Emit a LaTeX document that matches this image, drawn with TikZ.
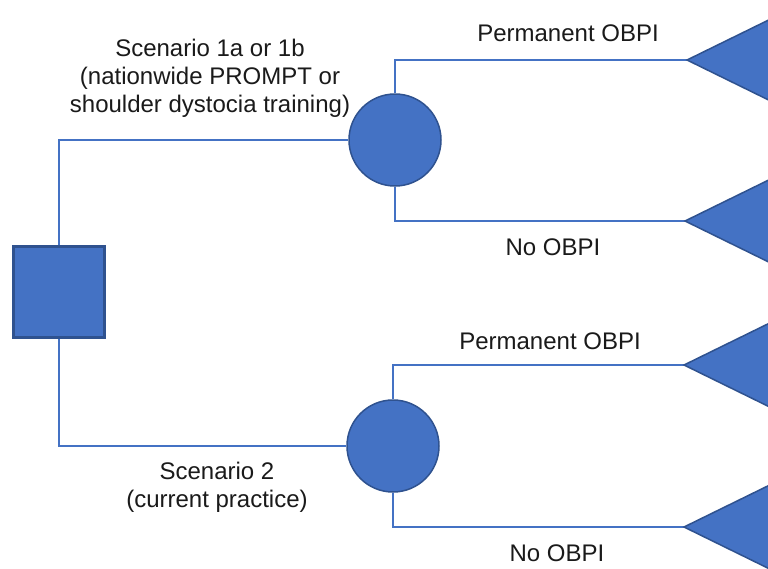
\documentclass[tikz,border=0pt]{standalone}
\usepackage{fontspec}
\setmainfont{Liberation Sans}
\definecolor{nodefill}{HTML}{4472C4}
\definecolor{nodeedge}{HTML}{2F528F}
\definecolor{linecol}{HTML}{4472C4}
\definecolor{txt}{HTML}{1A1A1A}
\begin{document}
\begin{tikzpicture}[x=1pt,y=-1pt,
  decision/.style={draw=nodeedge,fill=nodefill,line width=2.5pt,minimum size=91pt,inner sep=0pt},
  chance/.style={circle,draw=nodeedge,fill=nodefill,line width=1.5pt,minimum size=92pt,inner sep=0pt},
  term/.style={draw=nodeedge,fill=nodefill,line width=1.5pt,line join=miter},
  branch/.style={draw=linecol,line width=1.6pt},
  lbl/.style={text=txt,font=\fontsize{24}{28}\selectfont,align=center,inner sep=0pt}]
\clip (0,0) rectangle (768,568);
\fill[white] (0,0) rectangle (768,568);
% nodes
\node[decision] (sq) at (59,292) {};
\node[chance] (c1) at (395,140) {};
\node[chance] (c2) at (393,446) {};
\coordinate (t1) at (687,60);
\coordinate (t2) at (685,221);
\coordinate (t3) at (684,365);
\coordinate (t4) at (684,527);
% connectors
\draw[branch] (sq.north) |- (c1.west);
\draw[branch] (sq.south) |- (c2.west);
\draw[branch] (c1.north) |- (t1);
\draw[branch] (c1.south) |- (t2);
\draw[branch] (c2.north) |- (t3);
\draw[branch] (c2.south) |- (t4);
% terminal triangles
\foreach \t in {t1,t2,t3,t4}{
  \draw[term] (\t) -- ++(100,-49) -- ++(0,98) -- cycle;
}
% labels
\node[lbl] (s1) at (210,78) {Scenario 1a or 1b\\(nationwide PROMPT or\\shoulder dystocia training)};
\node[lbl] (s2) at (217,487.5) {Scenario 2\\(current practice)};
\node[lbl] (p1) at (568,33) {Permanent OBPI};
\node[lbl] (n1) at (553,247) {No OBPI};
\node[lbl] (p2) at (550,341) {Permanent OBPI};
\node[lbl] (n2) at (557,553) {No OBPI};
\end{tikzpicture}
\end{document}
